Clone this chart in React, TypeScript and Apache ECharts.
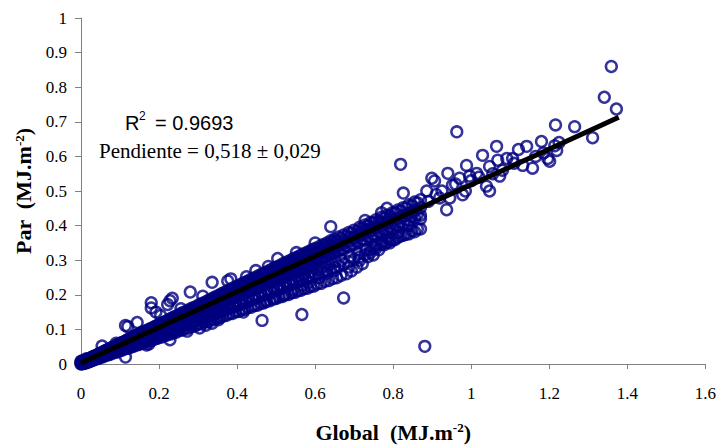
import { useEffect, useRef } from "react";
import * as echarts from "echarts";

const NAVY = "#000080";
const AXIS = "#808080";
const SERIF = "'Liberation Serif', 'Times New Roman', serif";
const SANS = "'Liberation Sans', Arial, sans-serif";

// x ticks / y ticks
const X_MIN = 0;
const X_MAX = 1.6;
const X_STEP = 0.2;
const Y_MIN = 0;
const Y_MAX = 1;
const Y_STEP = 0.1;

// rows: [global, par, par, ...]
const bandLow: number[][] = [
  [0.0, 0.0, 0.002, 0.005, 0.008],
  [0.004, 0.001, 0.004, 0.009],
  [0.008, 0.002, 0.006, 0.01],
  [0.012, 0.004, 0.008, 0.012],
  [0.016, 0.005, 0.009, 0.013],
  [0.021, 0.007, 0.011, 0.015],
  [0.026, 0.01, 0.014, 0.018],
  [0.031, 0.012, 0.016, 0.021],
  [0.036, 0.015, 0.019, 0.023],
  [0.042, 0.017, 0.022, 0.026],
  [0.048, 0.02, 0.025, 0.03],
  [0.054, 0.022, 0.028, 0.034, 0.052],
  [0.06, 0.025, 0.031, 0.036],
  [0.066, 0.028, 0.034, 0.04],
  [0.072, 0.03, 0.037, 0.043],
  [0.078, 0.033, 0.04, 0.047],
  [0.084, 0.036, 0.043, 0.05],
  [0.09, 0.038, 0.046, 0.053, 0.06],
  [0.096, 0.041, 0.049, 0.056],
  [0.102, 0.044, 0.052, 0.06],
  [0.108, 0.047, 0.055, 0.063],
  [0.114, 0.02, 0.049, 0.058, 0.066, 0.111],
];

const bandMid: number[][] = [
  [0.12, 0.05, 0.058, 0.064, 0.071, 0.108],
  [0.126, 0.053, 0.061, 0.067, 0.074],
  [0.132, 0.056, 0.063, 0.07, 0.078],
  [0.138, 0.058, 0.066, 0.073, 0.081],
  [0.144, 0.061, 0.069, 0.076, 0.084, 0.12],
  [0.15, 0.062, 0.072, 0.079, 0.088],
  [0.156, 0.066, 0.075, 0.082, 0.09],
  [0.162, 0.068, 0.078, 0.085, 0.094],
  [0.168, 0.055, 0.071, 0.081, 0.088, 0.097],
  [0.174, 0.058, 0.073, 0.084, 0.091, 0.1],
  [0.18, 0.076, 0.087, 0.094, 0.103, 0.162, 0.177],
  [0.186, 0.079, 0.09, 0.097, 0.106],
  [0.192, 0.081, 0.093, 0.1, 0.11, 0.15],
  [0.198, 0.084, 0.096, 0.103, 0.113],
  [0.204, 0.086, 0.099, 0.106, 0.117, 0.14],
  [0.21, 0.089, 0.101, 0.109, 0.12],
  [0.216, 0.091, 0.104, 0.112, 0.123],
  [0.222, 0.094, 0.107, 0.115, 0.126, 0.172],
  [0.228, 0.07, 0.096, 0.11, 0.118, 0.13, 0.183],
  [0.234, 0.099, 0.113, 0.121, 0.133, 0.19],
  [0.24, 0.101, 0.116, 0.124, 0.137],
  [0.248, 0.104, 0.119, 0.128, 0.141],
  [0.256, 0.108, 0.123, 0.132, 0.146, 0.16],
  [0.264, 0.111, 0.127, 0.136, 0.15],
  [0.272, 0.095, 0.114, 0.131, 0.14, 0.154],
  [0.28, 0.118, 0.135, 0.144, 0.159, 0.208],
  [0.288, 0.121, 0.139, 0.148, 0.163],
  [0.296, 0.124, 0.143, 0.152, 0.167],
  [0.304, 0.104, 0.128, 0.147, 0.157, 0.172],
  [0.312, 0.131, 0.151, 0.161, 0.176, 0.196],
  [0.32, 0.112, 0.134, 0.155, 0.165, 0.18],
  [0.328, 0.138, 0.159, 0.169, 0.185],
  [0.336, 0.118, 0.141, 0.163, 0.173, 0.189, 0.236],
  [0.344, 0.145, 0.167, 0.178, 0.194],
  [0.352, 0.128, 0.148, 0.171, 0.182, 0.198],
  [0.36, 0.152, 0.175, 0.186, 0.203],
  [0.368, 0.155, 0.179, 0.19, 0.207],
  [0.376, 0.159, 0.183, 0.194, 0.212, 0.24],
  [0.384, 0.162, 0.187, 0.199, 0.216, 0.246],
  [0.392, 0.166, 0.191, 0.203, 0.221],
];

const bandHigh: number[][] = [
  [0.4, 0.169, 0.195, 0.207, 0.225],
  [0.408, 0.173, 0.199, 0.211, 0.229],
  [0.416, 0.15, 0.176, 0.203, 0.216, 0.234],
  [0.424, 0.18, 0.207, 0.22, 0.238, 0.252],
  [0.432, 0.183, 0.211, 0.224, 0.243],
  [0.44, 0.187, 0.215, 0.228, 0.247],
  [0.448, 0.19, 0.219, 0.232, 0.251, 0.27],
  [0.456, 0.194, 0.223, 0.237, 0.256],
  [0.464, 0.126, 0.197, 0.227, 0.241, 0.26],
  [0.472, 0.18, 0.201, 0.231, 0.245, 0.264],
  [0.48, 0.204, 0.235, 0.249, 0.269, 0.282],
  [0.488, 0.208, 0.239, 0.253, 0.273],
  [0.496, 0.19, 0.211, 0.243, 0.258, 0.278],
  [0.504, 0.215, 0.247, 0.262, 0.282, 0.305],
  [0.512, 0.218, 0.251, 0.266, 0.286],
  [0.52, 0.2, 0.222, 0.255, 0.27, 0.291],
  [0.528, 0.225, 0.259, 0.274, 0.295],
  [0.536, 0.229, 0.263, 0.279, 0.299],
  [0.544, 0.215, 0.232, 0.267, 0.283, 0.304],
  [0.552, 0.236, 0.271, 0.287, 0.308, 0.322],
  [0.56, 0.239, 0.275, 0.291, 0.312],
  [0.566, 0.143],
  [0.568, 0.228, 0.243, 0.279, 0.295, 0.317],
  [0.576, 0.246, 0.283, 0.3, 0.321],
  [0.584, 0.236, 0.25, 0.287, 0.304, 0.325],
  [0.592, 0.253, 0.291, 0.308, 0.33],
  [0.6, 0.257, 0.295, 0.312, 0.334, 0.35],
  [0.61, 0.25, 0.261, 0.3, 0.317, 0.339],
  [0.62, 0.266, 0.305, 0.322, 0.345],
  [0.63, 0.262, 0.27, 0.31, 0.328, 0.35],
  [0.64, 0.275, 0.315, 0.333, 0.356, 0.397],
  [0.65, 0.27, 0.279, 0.32, 0.338, 0.361],
];

const bandTop: number[][] = [
  [0.66, 0.284, 0.325, 0.343, 0.367],
  [0.673, 0.191, 0.29, 0.331, 0.35, 0.373],
  [0.686, 0.28, 0.296, 0.338, 0.356, 0.38],
  [0.7, 0.303, 0.345, 0.364, 0.387],
  [0.714, 0.3, 0.309, 0.352, 0.371, 0.395],
  [0.728, 0.316, 0.359, 0.378, 0.402, 0.415],
  [0.742, 0.322, 0.33, 0.366, 0.385, 0.409],
  [0.756, 0.335, 0.345, 0.373, 0.393, 0.417],
  [0.77, 0.345, 0.38, 0.4, 0.424, 0.437],
  [0.784, 0.352, 0.365, 0.387, 0.407, 0.43, 0.45],
  [0.798, 0.358, 0.394, 0.414, 0.437],
  [0.812, 0.366, 0.38, 0.401, 0.421, 0.445],
  [0.826, 0.372, 0.408, 0.429, 0.452, 0.494],
  [0.84, 0.376, 0.4, 0.415, 0.436, 0.46],
  [0.855, 0.382, 0.422, 0.444, 0.468],
  [0.87, 0.39, 0.42, 0.43, 0.452, 0.475],
];

// second pass through the dense band, between the rows above
const bandFill: number[][] = [
  [0.002, 0.001, 0.004, 0.006],
  [0.006, 0.003, 0.005, 0.008],
  [0.01, 0.002, 0.007, 0.011],
  [0.014, 0.004, 0.008, 0.011, 0.015],
  [0.019, 0.006, 0.01, 0.014],
  [0.024, 0.008, 0.013, 0.016],
  [0.029, 0.011, 0.014, 0.02],
  [0.034, 0.012, 0.018, 0.022],
  [0.039, 0.015, 0.02, 0.025],
  [0.045, 0.016, 0.022, 0.029],
  [0.051, 0.02, 0.027, 0.031],
  [0.057, 0.021, 0.03, 0.034],
  [0.063, 0.025, 0.031, 0.039],
  [0.069, 0.026, 0.036, 0.041],
  [0.075, 0.028, 0.038, 0.045],
  [0.081, 0.032, 0.04, 0.048],
  [0.087, 0.033, 0.045, 0.05],
  [0.093, 0.035, 0.047, 0.055],
  [0.099, 0.039, 0.05, 0.057],
  [0.105, 0.04, 0.054, 0.062],
  [0.111, 0.044, 0.056, 0.064],
  [0.117, 0.045, 0.059, 0.068],
  [0.123, 0.046, 0.063, 0.07],
  [0.129, 0.05, 0.064, 0.074],
  [0.135, 0.051, 0.069, 0.076],
  [0.141, 0.055, 0.07, 0.081],
  [0.147, 0.056, 0.075, 0.082],
  [0.153, 0.059, 0.076, 0.087],
  [0.159, 0.06, 0.081, 0.088],
  [0.165, 0.064, 0.082, 0.093],
  [0.171, 0.065, 0.087, 0.095],
  [0.177, 0.068, 0.088, 0.1],
  [0.183, 0.069, 0.093, 0.101],
  [0.189, 0.073, 0.094, 0.106],
  [0.195, 0.074, 0.099, 0.107],
  [0.201, 0.078, 0.1, 0.113],
  [0.207, 0.078, 0.105, 0.114],
  [0.213, 0.082, 0.106, 0.119],
  [0.219, 0.083, 0.111, 0.12],
  [0.225, 0.087, 0.112, 0.125],
  [0.231, 0.087, 0.117, 0.127],
  [0.237, 0.091, 0.118, 0.132],
  [0.244, 0.092, 0.123, 0.134],
  [0.252, 0.097, 0.125, 0.14],
  [0.26, 0.098, 0.131, 0.142],
  [0.268, 0.103, 0.133, 0.148],
  [0.276, 0.104, 0.139, 0.15],
  [0.284, 0.109, 0.141, 0.157],
  [0.292, 0.11, 0.147, 0.159],
  [0.3, 0.115, 0.149, 0.165],
  [0.308, 0.116, 0.155, 0.167],
  [0.316, 0.121, 0.157, 0.174],
  [0.324, 0.122, 0.163, 0.176],
  [0.332, 0.127, 0.165, 0.182],
  [0.34, 0.128, 0.171, 0.185],
  [0.348, 0.133, 0.173, 0.191],
  [0.356, 0.134, 0.179, 0.193],
  [0.364, 0.139, 0.181, 0.2],
  [0.372, 0.14, 0.187, 0.202],
  [0.38, 0.145, 0.189, 0.208],
  [0.388, 0.146, 0.195, 0.211],
  [0.396, 0.151, 0.197, 0.217],
  [0.404, 0.152, 0.203, 0.219],
  [0.412, 0.157, 0.205, 0.226],
  [0.42, 0.158, 0.211, 0.228],
  [0.428, 0.163, 0.213, 0.234],
  [0.436, 0.164, 0.219, 0.237],
  [0.444, 0.169, 0.221, 0.243],
  [0.452, 0.17, 0.227, 0.245],
  [0.46, 0.175, 0.229, 0.252],
  [0.468, 0.176, 0.235, 0.254],
  [0.476, 0.182, 0.237, 0.26],
  [0.484, 0.183, 0.243, 0.263],
  [0.492, 0.188, 0.245, 0.269],
  [0.5, 0.189, 0.251, 0.271],
  [0.508, 0.194, 0.253, 0.278],
  [0.516, 0.195, 0.259, 0.28],
  [0.524, 0.2, 0.261, 0.286],
  [0.532, 0.201, 0.267, 0.289],
  [0.54, 0.206, 0.269, 0.295],
  [0.548, 0.207, 0.275, 0.297],
  [0.556, 0.212, 0.277, 0.304],
  [0.564, 0.213, 0.283, 0.306],
  [0.572, 0.218, 0.285, 0.312],
  [0.58, 0.219, 0.291, 0.315],
  [0.588, 0.224, 0.293, 0.321],
  [0.596, 0.225, 0.299, 0.323],
  [0.605, 0.231, 0.301, 0.33],
  [0.615, 0.233, 0.308, 0.333],
  [0.625, 0.239, 0.311, 0.341],
  [0.635, 0.241, 0.318, 0.344],
  [0.645, 0.247, 0.321, 0.352],
  [0.655, 0.249, 0.328, 0.355],
  [0.666, 0.256, 0.332, 0.363],
  [0.68, 0.261, 0.341, 0.369],
  [0.693, 0.269, 0.346, 0.378],
  [0.707, 0.28, 0.355, 0.383],
  [0.721, 0.29, 0.36, 0.393],
  [0.735, 0.31, 0.369, 0.399],
  [0.749, 0.315, 0.374, 0.408],
  [0.763, 0.33, 0.383, 0.413],
  [0.777, 0.345, 0.388, 0.422],
  [0.791, 0.35, 0.397, 0.427],
  [0.805, 0.36, 0.402, 0.437],
  [0.819, 0.37, 0.411, 0.442],
  [0.833, 0.375, 0.417, 0.451],
  [0.848, 0.385, 0.426, 0.457],
  [0.862, 0.39, 0.432, 0.466],
];

// third pass along the core of the band
const bandCore: number[][] = [
  [0.118, 0.052, 0.062],
  [0.134, 0.06, 0.072],
  [0.152, 0.069, 0.08],
  [0.17, 0.077, 0.09],
  [0.187, 0.085, 0.099],
  [0.203, 0.092, 0.108],
  [0.219, 0.1, 0.116],
  [0.236, 0.107, 0.125],
  [0.252, 0.113, 0.134],
  [0.268, 0.122, 0.141],
  [0.284, 0.128, 0.151],
  [0.3, 0.137, 0.158],
  [0.316, 0.143, 0.168],
  [0.332, 0.151, 0.175],
  [0.348, 0.157, 0.185],
  [0.364, 0.166, 0.192],
  [0.38, 0.172, 0.202],
  [0.396, 0.18, 0.209],
  [0.412, 0.186, 0.219],
  [0.428, 0.195, 0.226],
  [0.444, 0.2, 0.236],
  [0.46, 0.209, 0.243],
  [0.476, 0.215, 0.253],
  [0.492, 0.224, 0.26],
  [0.508, 0.229, 0.27],
  [0.524, 0.238, 0.277],
  [0.54, 0.244, 0.287],
  [0.556, 0.253, 0.294],
  [0.572, 0.258, 0.304],
  [0.588, 0.267, 0.311],
  [0.604, 0.272, 0.321],
  [0.62, 0.281, 0.328],
  [0.636, 0.287, 0.338],
  [0.652, 0.296, 0.345],
  [0.668, 0.3, 0.354],
  [0.69, 0.312, 0.366],
  [0.71, 0.32, 0.376],
  [0.73, 0.331, 0.388],
  [0.75, 0.338, 0.397],
  [0.77, 0.351, 0.41],
  [0.79, 0.36, 0.418],
];

// scattered points above ~0.82 of global, plus the stray low ones
const sparse: number[][] = [
  [0.819, 0.577], [0.881, 0.051], [0.886, 0.5], [0.89, 0.47], [0.899, 0.537],
  [0.906, 0.529], [0.91, 0.49], [0.919, 0.48], [0.925, 0.5], [0.937, 0.446],
  [0.94, 0.551], [0.945, 0.48], [0.952, 0.517], [0.96, 0.52], [0.963, 0.671],
  [0.97, 0.537], [0.978, 0.489], [0.985, 0.5], [0.988, 0.574], [0.996, 0.543],
  [1.0, 0.53], [1.014, 0.551], [1.02, 0.54], [1.029, 0.603], [1.039, 0.514],
  [1.047, 0.5], [1.047, 0.571], [1.055, 0.55], [1.065, 0.629], [1.068, 0.589],
  [1.073, 0.543], [1.08, 0.56], [1.091, 0.594], [1.106, 0.594], [1.11, 0.58],
  [1.121, 0.62], [1.132, 0.574], [1.142, 0.629], [1.157, 0.566], [1.165, 0.6],
  [1.18, 0.643], [1.185, 0.61], [1.196, 0.594], [1.201, 0.586], [1.214, 0.631],
  [1.216, 0.691], [1.219, 0.617], [1.225, 0.64], [1.265, 0.686], [1.311, 0.654],
  [1.341, 0.771], [1.359, 0.86], [1.372, 0.737],
];

// fitted line, slope 0.518
const fitLine: number[][] = [
  [0.0, 0.003],
  [1.378, 0.713],
];

function rowsToPoints(rows: number[][]) {
  const out: number[][] = [];
  for (const r of rows) {
    for (let i = 1; i < r.length; i++) out.push([r[0], r[i]]);
  }
  return out;
}

const nameRich = {
  b: { fontFamily: SERIF, fontSize: 22, fontWeight: "bold", color: "#000", lineHeight: 22, verticalAlign: "bottom" },
  s: { fontFamily: SERIF, fontSize: 13, fontWeight: "bold", color: "#000", lineHeight: 14, verticalAlign: "top" },
};

function buildOption() {
  const points = [
    ...rowsToPoints(bandLow),
    ...rowsToPoints(bandMid),
    ...rowsToPoints(bandHigh),
    ...rowsToPoints(bandTop),
    ...rowsToPoints(bandFill),
    ...rowsToPoints(bandCore),
    ...sparse,
  ];

  return {
    animation: false,
    backgroundColor: "#fff",
    grid: { left: 81, top: 18, width: 625, height: 350, containLabel: false },
    xAxis: {
      type: "value",
      min: X_MIN,
      max: X_MAX,
      interval: X_STEP,
      name: "{b|Global  (MJ.m}{s|-2}{b|)}",
      nameLocation: "middle",
      nameGap: 57,
      nameTextStyle: { rich: nameRich },
      axisLine: { lineStyle: { color: AXIS, width: 1 } },
      axisTick: { show: true, inside: false, length: 5, lineStyle: { color: AXIS } },
      axisLabel: { color: "#000", fontFamily: SERIF, fontSize: 17, margin: 21 },
      splitLine: { show: false },
    },
    yAxis: {
      type: "value",
      min: Y_MIN,
      max: Y_MAX,
      interval: Y_STEP,
      name: "{b|Par  (MJ.m}{s|-2}{b|)}",
      nameLocation: "middle",
      nameGap: 44,
      nameTextStyle: { rich: nameRich },
      axisLine: { show: true, lineStyle: { color: AXIS, width: 1 } },
      axisTick: { show: true, inside: false, length: 6, lineStyle: { color: AXIS } },
      axisLabel: { color: "#000", fontFamily: SERIF, fontSize: 17, margin: 14 },
      splitLine: { show: false },
    },
    graphic: [
      {
        type: "text",
        silent: true,
        style: { text: "R", x: 125, y: 123, fill: "#000", font: `20px ${SANS}`, verticalAlign: "middle" },
      },
      {
        type: "text",
        silent: true,
        style: { text: "2", x: 139, y: 116, fill: "#000", font: `12px ${SANS}`, verticalAlign: "middle" },
      },
      {
        type: "text",
        silent: true,
        style: { text: "= 0.9693", x: 155, y: 123, fill: "#000", font: `20px ${SANS}`, verticalAlign: "middle" },
      },
      {
        type: "text",
        silent: true,
        style: {
          text: "Pendiente = 0,518 \u00b1 0,029",
          x: 99,
          y: 151,
          fill: "#000",
          font: `21px ${SERIF}`,
          verticalAlign: "middle",
        },
      },
    ],
    series: [
      {
        type: "scatter",
        data: points,
        symbol: "circle",
        symbolSize: 10.8,
        itemStyle: { color: "rgba(0,0,0,0)", borderColor: NAVY, borderWidth: 2.5 },
        z: 2,
      },
      {
        type: "line",
        data: fitLine,
        showSymbol: false,
        symbol: "none",
        lineStyle: { color: "#000", width: 5 },
        z: 3,
      },
    ],
  };
}

export default function App() {
  const ref = useRef<HTMLDivElement>(null);

  useEffect(() => {
    if (!ref.current) return;
    const chart = echarts.init(ref.current, null, { renderer: "svg" });
    chart.setOption(buildOption() as any);
    return () => {
      chart.dispose();
    };
  }, []);

  return (
    <div
      ref={ref}
      style={{ position: "fixed", left: 0, top: 0, width: 719, height: 448, background: "#fff" }}
    />
  );
}
